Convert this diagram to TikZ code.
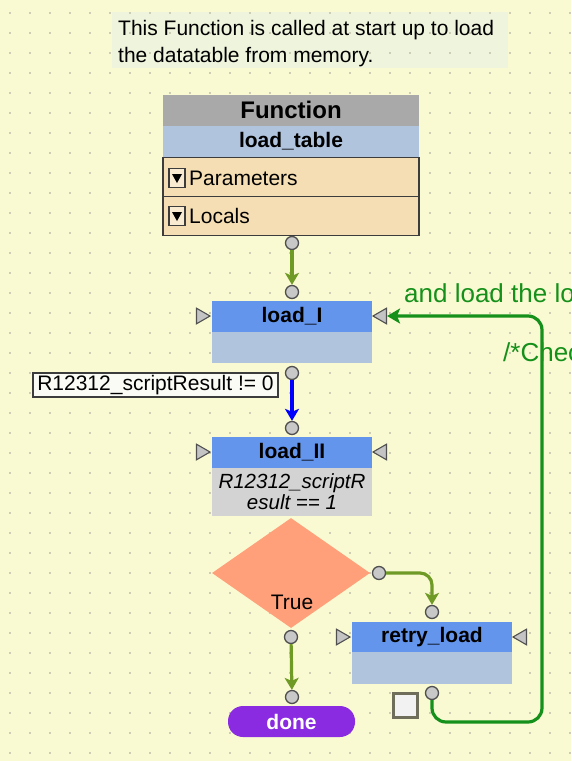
\documentclass[tikz,border=0pt]{standalone}
\usepackage{fontspec}
\setmainfont{Liberation Sans}
\usetikzlibrary{shapes.geometric,arrows.meta,calc}
\definecolor{bgc}{HTML}{FAFAD2}
\definecolor{dotc}{HTML}{CDCDB5}
\definecolor{cmtc}{HTML}{EFF4DD}
\definecolor{hdrgray}{HTML}{A9A9A9}
\definecolor{steel}{HTML}{B0C4DE}
\definecolor{tan}{HTML}{F5DEB3}
\definecolor{bord}{HTML}{3C3C3C}
\definecolor{blk}{HTML}{6495ED}
\definecolor{lgray}{HTML}{D3D3D3}
\definecolor{salmon}{HTML}{FFA07A}
\definecolor{violet}{HTML}{8A2BE2}
\definecolor{olv}{HTML}{6F9A25}
\definecolor{fbgreen}{HTML}{15901A}
\definecolor{cfill}{HTML}{C8C8C8}
\definecolor{cdraw}{HTML}{505050}
\definecolor{pfill}{HTML}{C4C4C4}
\definecolor{condfill}{HTML}{FBFBF6}
\definecolor{sqdraw}{HTML}{6E6E5A}
\tikzset{
  conn/.style={circle, minimum size=13pt, inner sep=0pt, fill=cfill, draw=cdraw, line width=1.3pt},
  port/.style={regular polygon, regular polygon sides=3, minimum size=18pt, inner sep=0pt, fill=pfill, draw=cdraw, line width=1.1pt},
  portR/.style={port, shape border rotate=-90},
  portL/.style={port, shape border rotate=90},
  blkhead/.style={rectangle, minimum width=160pt, minimum height=31pt, inner sep=0pt, fill=blk, font=\fontsize{21}{24}\selectfont\bfseries},
  blkbody/.style={rectangle, minimum width=160pt, minimum height=#1, inner sep=0pt, fill=steel},
  tanrow/.style={rectangle, minimum width=256pt, minimum height=39pt, inner sep=0pt, fill=tan, draw=bord, line width=1.8pt},
  ddicon/.style={rectangle, minimum width=16pt, minimum height=19pt, inner sep=0pt, fill=tan!60!white, draw=bord, line width=1.6pt},
  olvarrow/.style={draw=olv, line width=3.2pt, -{Stealth[length=12pt,width=14pt,inset=3pt]}},
  bluearrow/.style={draw=blue, line width=3.2pt, -{Stealth[length=12pt,width=14pt,inset=3pt]}},
  fbarrow/.style={draw=fbgreen, line width=3.2pt, rounded corners=14pt, -{Stealth[length=13pt,width=15pt,inset=3pt]}},
  lbl/.style={text=fbgreen, anchor=west, inner sep=0pt, font=\fontsize{26}{30}\selectfont}
}
\begin{document}
\begin{tikzpicture}[x=1pt,y=-1pt]
\useasboundingbox (0,0) rectangle (571,761);
\clip (0,0) rectangle (571,761);
\fill[bgc] (0,0) rectangle (571,761);
% comment
\node[rectangle, fill=cmtc, minimum width=396pt, minimum height=56pt, inner sep=0pt] (cmt) at (310,40) {};
\foreach \i in {0,...,28} \foreach \j in {0,...,37} \fill[dotc] (9+20*\i, 12+20*\j) rectangle ++(2,2);
\node[anchor=north west, inner sep=0pt, align=left, font=\fontsize{21}{26.5}\selectfont] (cmttext) at (118,20.5) {This Function is called at start up to load\\the datatable from memory.};
% function block
\node[rectangle, fill=hdrgray, minimum width=256pt, minimum height=31pt, inner sep=0pt, font=\fontsize{24}{28}\selectfont\bfseries] (fnhead) at (291,110) {Function};
\node[rectangle, fill=steel, minimum width=256pt, minimum height=31pt, inner sep=0pt, font=\fontsize{21}{24}\selectfont\bfseries] (fnname) at (291,141) {load\_table};
\node[tanrow] (params) at (291,177) {};
\node[tanrow] (locals) at (291,216) {};
\node[ddicon] (ic1) at (177,178) {};
\fill[black] ($(ic1.center)+(-5,-4)$) -- ($(ic1.center)+(5,-4)$) -- ($(ic1.center)+(0,5)$) -- cycle;
\node[ddicon] (ic2) at (177,216) {};
\fill[black] ($(ic2.center)+(-5,-4)$) -- ($(ic2.center)+(5,-4)$) -- ($(ic2.center)+(0,5)$) -- cycle;
\node[anchor=west, inner sep=0pt, font=\fontsize{21}{24}\selectfont] (ptext) at (189,178) {Parameters};
\node[anchor=west, inner sep=0pt, font=\fontsize{21}{24}\selectfont] (ltext) at (189,216) {Locals};
% load_I
\node[blkhead] (loadI) at (292,316.5) {load\_I};
\node[blkbody=31pt] (loadIb) at (292,347.5) {};
\node[portR] (pIl) at (201,316) {};
\node[portL] (pIr) at (382,316) {};
% load_II
\node[blkhead] (loadII) at (292,452.5) {load\_II};
\node[rectangle, fill=lgray, minimum width=160pt, minimum height=48pt, inner sep=0pt, align=center, font=\fontsize{20.5}{21}\selectfont\itshape] (loadIIb) at (292,492) {R12312\_scriptR\\esult == 1};
\node[portR] (pIIl) at (201,452) {};
\node[portL] (pIIr) at (382,452) {};
% condition label
\node[rectangle, draw=bord, fill=condfill, line width=1.8pt, minimum width=245pt, minimum height=24pt, inner sep=0pt, font=\fontsize{21}{24}\selectfont] (cond) at (155.5,385) {R12312\_scriptResult != 0};
% diamond
\node[diamond, fill=salmon, minimum width=158pt, minimum height=110pt, aspect=1.436, inner sep=0pt] (dec) at (291,573) {};
\node[inner sep=0pt, font=\fontsize{21}{24}\selectfont] (truetxt) at (292,602) {True};
% retry_load
\node[blkhead] (retry) at (432,637) {retry\_load};
\node[blkbody=32pt] (retryb) at (432,668) {};
\node[portR] (pRl) at (341,637) {};
\node[portL] (pRr) at (522,637) {};
% done
\node[rectangle, rounded corners=15pt, fill=violet, minimum width=127pt, minimum height=31pt, inner sep=0pt, text=white, font=\fontsize{21}{24}\selectfont\bfseries] (done) at (291.5,721.5) {done};
% small square
\node[rectangle, fill=white!95!black, draw=sqdraw, line width=2.2pt, minimum width=24pt, minimum height=24pt, inner sep=0pt] (sq) at (405.5,705.5) {};
% connector circles
\node[conn] (c1) at (292,243) {};
\node[conn] (c2) at (292,292) {};
\node[conn] (c3) at (292,373) {};
\node[conn] (c4) at (292,428) {};
\node[conn] (c5) at (379,573) {};
\node[conn] (c6) at (432,612) {};
\node[conn] (c7) at (291,637) {};
\node[conn] (c9) at (292,697) {};
\node[conn] (c8) at (432,693) {};
% labels on feedback edge
\node[lbl] (lbl1) at (404,293) {and load the lo};
\node[lbl] (lbl2) at (503,352) {/*Chec};
% edges
\draw[olvarrow] (c1) -- (c2);
\draw[bluearrow] (c3) -- (c4);
\draw[olvarrow, rounded corners=12pt] (c5) -| (c6);
\draw[olvarrow] (c7) -- (c9);
\coordinate (b1) at (542,722);
\draw[fbarrow] (c8) |- (b1) |- (pIr.east);
\end{tikzpicture}
\end{document}
